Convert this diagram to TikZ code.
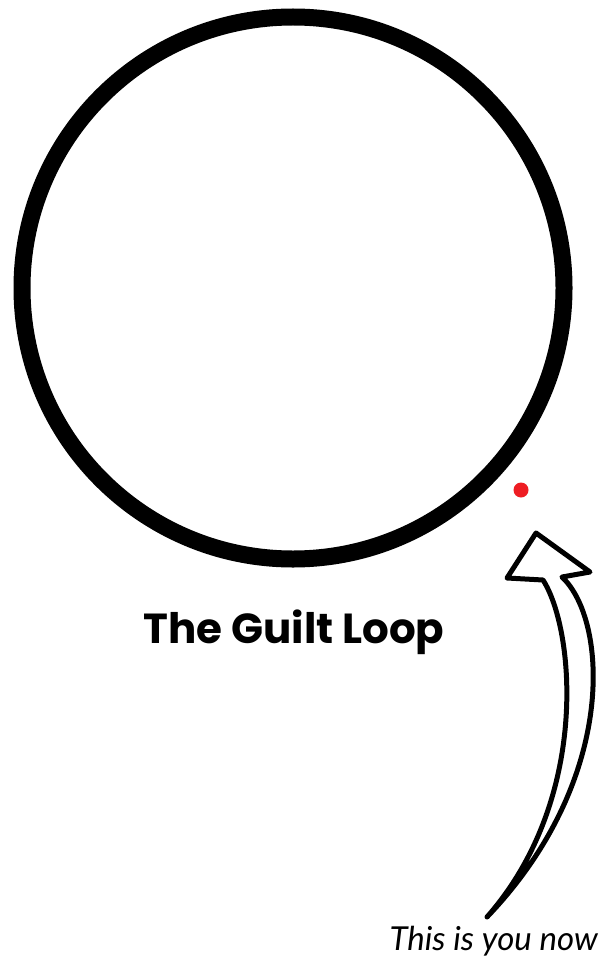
\documentclass[tikz,border=0pt]{standalone}
\usepackage{fontspec}
\newfontfamily\titlefont{Poppins}
\newfontfamily\handfont{Lato}
\definecolor{dotred}{HTML}{EE1D23}
\tikzset{
  loopring/.style={circle, draw=black, line width=17pt, minimum size=542pt, inner sep=0pt},
  youdot/.style={circle, fill=dotred, minimum size=15pt, inner sep=0pt},
  bigarrow/.style={draw=black, fill=white, line width=5pt, line join=round, line cap=round},
  titletext/.style={font=\titlefont\bfseries\fontsize{42}{48}\selectfont, inner sep=0pt},
  handtext/.style={font=\handfont\itshape\fontsize{33}{38}\selectfont, inner sep=0pt}
}
\begin{document}
\begin{tikzpicture}[x=1pt,y=-1pt]
\useasboundingbox[fill=white] (0,0) rectangle (610,960);
\node[loopring] (loop) at (293,288) {};
\node[youdot] (you) at (521,490) {};
\node[titletext, anchor=base] (title) at (294,643) {The Guilt Loop};
\node[handtext, anchor=base east] (label) at (598,950) {This is you now};
\coordinate (tip) at (536,533);
\coordinate (rc) at (590,572);
\coordinate (rn) at (562,577);
\coordinate (tail) at (487,917);
\coordinate (ln) at (543,580);
\coordinate (lc) at (507,578);
\draw[bigarrow] (tip) -- (rc) -- (rn)
  .. controls (608,620) and (618,780) .. (tail)
  .. controls (590,800) and (575,630) .. (ln)
  -- (lc) -- cycle;
\end{tikzpicture}
\end{document}
